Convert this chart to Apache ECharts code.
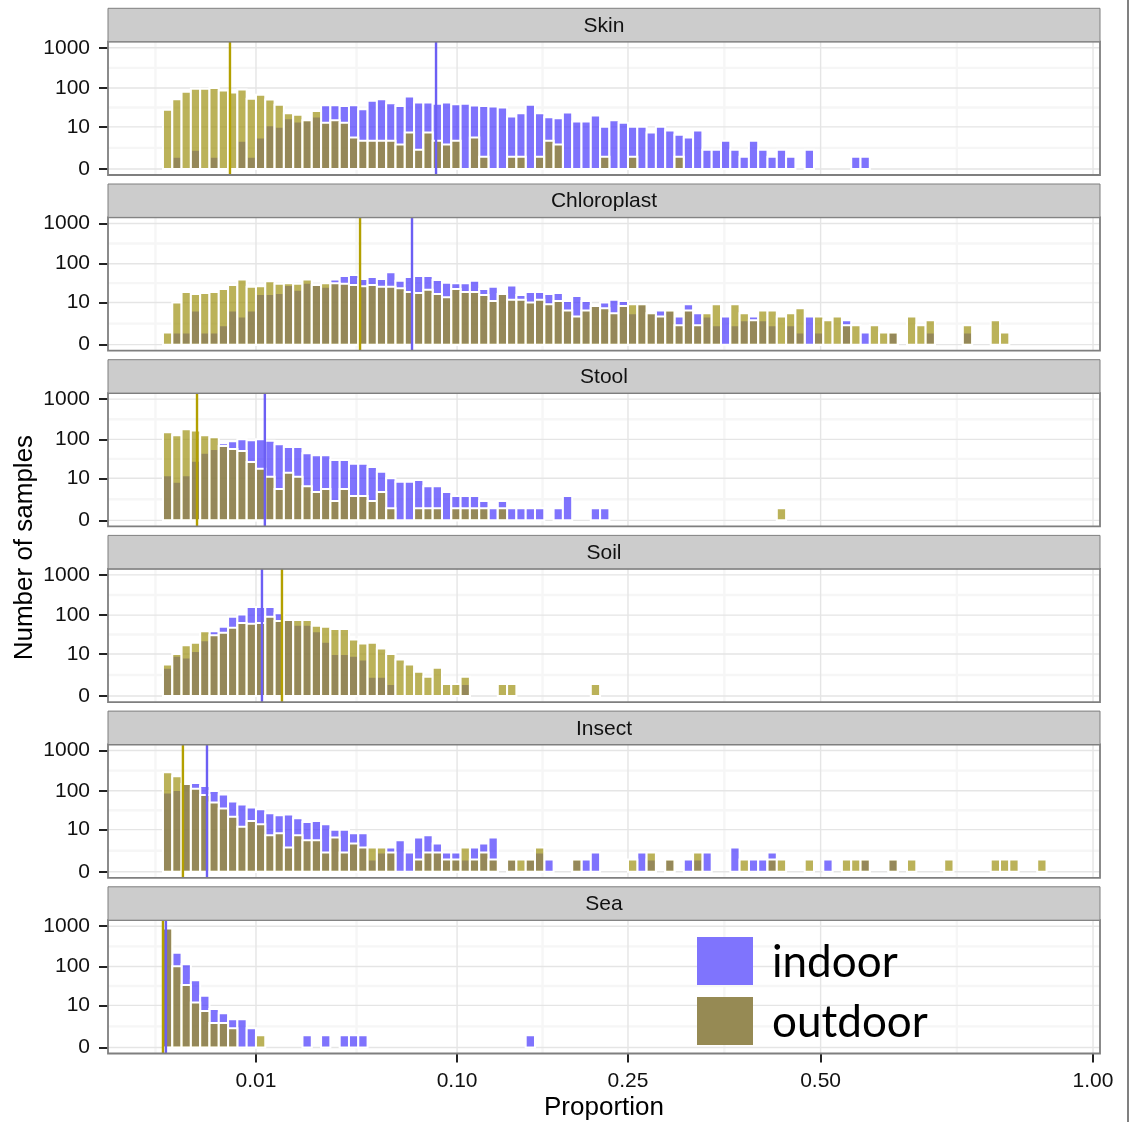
<!DOCTYPE html>
<html>
<head>
<meta charset="utf-8">
<script src="https://cdn.jsdelivr.net/npm/echarts@6/dist/echarts.min.js"></script>
<style>
  html, body { margin: 0; padding: 0; background: #ffffff; }
  #chart { width: 1132px; height: 1122px; }
</style>
</head>
<body>
<div id="chart"></div>
<script>
// Facets, top to bottom
const facets = ['Skin', 'Chloroplast', 'Stool', 'Soil', 'Insect', 'Sea'];

// Histogram bins are BIN_WIDTH wide on the square-root proportion scale; bin i starts at i * BIN_WIDTH
const BIN_WIDTH = 0.01;

// Number of samples per bin
const skinIndoor = [0,1,0,2,0,1,0,0,4,1, 5,11,10,17,14,15,19,37,37,35, 37,29,48,52,41,35,61,43,43,40,
  43,39,40,36,35,34,32,19,23,38, 23,18,17,24,14,14,20,10,15,13, 10,10,7,10,8,6,5,8,2,2,
  4,2,1,4,2,1,2,1,0,2, 0,0,0,0,1,1];
const skinOutdoor = [28,52,81,95,95,100,86,77,91,54, 68,51,38,23,21,15,26,13,15,13, 5,4,4,4,4,3,7,2,7,4,
  3,4,0,5,1,0,0,1,1,0, 1,4,3,0,0,0,0,1,0,0, 1,0,0,0,0,1];

const chloroplastIndoor = [0,1,1,6,1,1,2,6,4,6, 17,17,18,29,22,33,29,26,40,49, 52,41,46,41,61,37,46,49,49,39,
  33,32,32,37,23,26,17,28,16,19, 19,17,18,11,15,11,8,10,12,11, 5,9,5,6,6,4,9,5,4,2,
  4,2,3,4,3,2,0,2,1,4, 1,0,0,3,0,1,0,0,1,0, 0,0,1,0,0,0,1];
const chloroplastOutdoor = [1,10,19,17,18,19,23,29,40,26, 27,36,31,32,31,40,29,32,32,31, 29,27,29,26,26,24,19,18,22,17,
  14,23,19,19,16,11,17,12,12,10, 12,9,11,6,4,6,8,7,5,8, 9,9,5,4,6,2,6,2,5,9,
  0,9,5,3,6,6,4,5,7,0, 4,3,4,2,2,0,2,1,1,0, 4,2,3,0,0,0,2,0,0,3, 1];

const stoolIndoor = [12,8,12,29,46,57,80,90,101,95, 101,93,75,64,64,45,40,40,30,30, 24,24,20,15,10,8,8,9,6,6,
  4,3,3,3,2,1,2,1,1,1, 1,0,1,3,0,0,1,1];
const stoolOutdoor = [151,127,179,166,127,113,68,57,51,27, 18,11,5,14,11,6,4,5,2,5, 3,3,2,4,1,0,0,1,1,1,
  0,1,1,1,1,0,1,0,0,0, 0,0,0,0,0,0,0,0,0,0, 0,0,0,0,0,0,0,0,0,0, 0,0,0,0,0,0,1];

const soilIndoor = [4,9,8,12,23,39,51,91,103,160, 160,160,111,75,57,57,39,21,10,10, 9,7,2,2,1,0,0,0,0,0,
  0,0,1];
const soilOutdoor = [5,10,17,20,39,31,36,48,63,61, 63,91,71,75,75,75,54,51,45,45, 24,19,20,14,10,7,5,3,2,4,
  1,1,2,0,0,0,1,1,0,0, 0,0,0,0,0,0,1];

const insectIndoor = [90,104,148,156,132,99,81,54,45,38, 34,27,24,25,20,16,17,14,10,10, 8,8,1,2,3,5,2,6,7,4,
  2,2,1,3,4,6,0,1,0,1, 2,1,0,0,1,1,2,0,0,0, 0,2,1,0,1,0,1,1,2,0, 0,3,0,1,1,2,0,0,0,0,
  0,1,0,0,0,1,0,0,1];
const insectOutdoor = [289,230,148,113,78,51,36,22,12,17, 14,7,8,3,7,5,5,2,6,2, 4,3,3,3,2,0,0,1,2,2,
  1,1,3,1,2,1,0,1,1,1, 3,0,0,0,1,0,0,0,0,0, 1,0,2,0,1,0,0,2,0,0, 0,0,1,0,0,1,1,0,0,1,
  0,0,0,1,1,1,0,0,1,0, 1,0,0,0,1,0,0,0,0,1, 1,1,0,0,1];

const seaIndoor = [920,221,113,45,18,8,6,4,4,2, 0,0,0,0,0,1,0,1,0,1, 1,1,0,0,0,0,0,0,0,0,
  0,0,0,0,0,0,0,0,0,1];
const seaOutdoor = [880,102,34,12,7,3,3,2,0,0, 1];

const indoorCounts = [skinIndoor, chloroplastIndoor, stoolIndoor, soilIndoor, insectIndoor, seaIndoor];
const outdoorCounts = [skinOutdoor, chloroplastOutdoor, stoolOutdoor, soilOutdoor, insectOutdoor, seaOutdoor];

// Median proportion per facet
const indoorMedian = [0.0862, 0.0717, 0.0120, 0.01133, 0.00224, 0.00001];
const outdoorMedian = [0.00519, 0.0449, 0.00134, 0.01637, 0.00046, 0];

// Axis breaks
const xTickValues = [0.01, 0.10, 0.25, 0.50, 1.00];
const yTickValues = [0, 10, 100, 1000];

// ---- scales ----
const fx = p => Math.sqrt(p);          // square-root proportion scale
const fy = c => Math.log10(c + 1);     // log10(count + 1) scale
const X_MIN = -0.0591, X_MAX = 1.0075;
const Y_MIN = -0.15, Y_MAX = 3.15;

// ---- layout ----
const PANEL_LEFT = 108, PANEL_WIDTH = 992;
const PANEL_TOP = 41.7, PANEL_HEIGHT = 133.3, PANEL_PITCH = 175.7, STRIP_HEIGHT = 33.4;

const FONT = '"Liberation Sans", Arial, Helvetica, sans-serif';
const INDOOR_FILL = 'rgba(72,56,252,0.7)';
const OUTDOOR_FILL = 'rgba(158,145,19,0.7)';
const INDOOR_LINE = '#6c5ff4';
const OUTDOOR_LINE = '#b3a000';

function minorBreaks(major, lo, hi) {
  const n = major.length;
  const ext = [major[0] - (major[1] - major[0])].concat(major, [major[n - 1] + (major[n - 1] - major[n - 2])]);
  const out = [];
  for (let i = 0; i < ext.length - 1; i++) {
    const m = (ext[i] + ext[i + 1]) / 2;
    if (m > lo && m < hi) out.push(m);
  }
  return out;
}

const xMajor = xTickValues.map(fx);
const yMajor = yTickValues.map(fy);
const xMinor = minorBreaks(xMajor, X_MIN, X_MAX);
const yMinor = minorBreaks(yMajor, Y_MIN, Y_MAX);

// [value, orientation (0 vertical / 1 horizontal), major flag]
const gridLineData = [].concat(
  xMinor.map(v => [v, 0, 0]), yMinor.map(v => [v, 1, 0]),
  xMajor.map(v => [v, 0, 1]), yMajor.map(v => [v, 1, 1])
);

function binData(counts) {
  const out = [];
  counts.forEach((c, i) => {
    if (c > 0) out.push([i * BIN_WIDTH, (i + 1) * BIN_WIDTH, fy(c)]);
  });
  return out;
}

function renderGridLine(params, api) {
  const v = api.value(0), horiz = api.value(1) === 1, major = api.value(2) === 1;
  const a = horiz ? api.coord([X_MIN, v]) : api.coord([v, Y_MIN]);
  const b = horiz ? api.coord([X_MAX, v]) : api.coord([v, Y_MAX]);
  return {
    type: 'line',
    shape: { x1: a[0], y1: a[1], x2: b[0], y2: b[1] },
    style: { stroke: major ? '#e5e5e5' : '#f6f6f6', lineWidth: major ? 1.4 : 2.4 }
  };
}

function barRenderer(fill) {
  return function (params, api) {
    const p0 = api.coord([api.value(0), api.value(2)]);
    const p1 = api.coord([api.value(1), 0]);
    return {
      type: 'rect',
      shape: { x: p0[0], y: p0[1], width: p1[0] - p0[0], height: p1[1] - p0[1] },
      style: { fill: fill, stroke: '#ffffff', lineWidth: 2 }
    };
  };
}

function medianRenderer(color) {
  return function (params, api) {
    const a = api.coord([api.value(0), Y_MIN]);
    const b = api.coord([api.value(0), Y_MAX]);
    return {
      type: 'line',
      shape: { x1: a[0], y1: a[1], x2: b[0], y2: b[1] },
      style: { stroke: color, lineWidth: 2.4 }
    };
  };
}

function renderBorder(params, api) {
  const a = api.coord([X_MIN, Y_MAX]);
  const b = api.coord([X_MAX, Y_MIN]);
  return {
    type: 'rect',
    shape: { x: a[0], y: a[1], width: b[0] - a[0], height: b[1] - a[1] },
    style: { fill: 'none', stroke: '#7f7f7f', lineWidth: 1.8 }
  };
}

const grids = [], xAxes = [], yAxes = [], series = [], graphics = [];
const last = facets.length - 1;

facets.forEach((name, k) => {
  const top = PANEL_TOP + k * PANEL_PITCH;
  grids.push({ left: PANEL_LEFT, top: top, width: PANEL_WIDTH, height: PANEL_HEIGHT, containLabel: false });

  xAxes.push({
    gridIndex: k, type: 'value', min: X_MIN, max: X_MAX, position: 'bottom',
    axisLine: { show: false, onZero: false }, splitLine: { show: false },
    axisTick: { show: k === last, customValues: xMajor, length: 9, lineStyle: { color: '#222', width: 2 } },
    axisLabel: {
      show: k === last, customValues: xMajor, margin: 17,
      fontFamily: FONT, fontSize: 21, color: '#111',
      formatter: v => (v * v).toFixed(2)
    },
    name: k === last ? 'Proportion' : '', nameLocation: 'middle', nameGap: 41,
    nameTextStyle: { fontFamily: FONT, fontSize: 26, color: '#000' }
  });

  yAxes.push({
    gridIndex: k, type: 'value', min: Y_MIN, max: Y_MAX, position: 'left',
    axisLine: { show: false, onZero: false }, splitLine: { show: false },
    axisTick: { show: true, customValues: yMajor, length: 9, lineStyle: { color: '#222', width: 2 } },
    axisLabel: {
      show: true, customValues: yMajor, margin: 18,
      fontFamily: FONT, fontSize: 21, color: '#111',
      formatter: v => String(Math.round(Math.pow(10, v) - 1))
    }
  });

  const common = { type: 'custom', coordinateSystem: 'cartesian2d', xAxisIndex: k, yAxisIndex: k, silent: true, clip: false };

  series.push(Object.assign({}, common, { name: name + ' grid', renderItem: renderGridLine, data: gridLineData, z: 1 }));
  series.push(Object.assign({}, common, {
    name: 'indoor', renderItem: barRenderer(INDOOR_FILL), data: binData(indoorCounts[k]),
    encode: { x: [0, 1], y: 2 }, z: 2
  }));
  series.push(Object.assign({}, common, {
    name: 'outdoor', renderItem: barRenderer(OUTDOOR_FILL), data: binData(outdoorCounts[k]),
    encode: { x: [0, 1], y: 2 }, z: 3
  }));
  series.push(Object.assign({}, common, {
    name: 'outdoor median', renderItem: medianRenderer(OUTDOOR_LINE), data: [[fx(outdoorMedian[k])]], z: 4
  }));
  series.push(Object.assign({}, common, {
    name: 'indoor median', renderItem: medianRenderer(INDOOR_LINE), data: [[fx(indoorMedian[k])]], z: 4
  }));
  series.push(Object.assign({}, common, { name: name + ' border', renderItem: renderBorder, data: [[0]], z: 5 }));

  // facet strip
  graphics.push({
    type: 'rect', z: 10,
    shape: { x: PANEL_LEFT, y: top - STRIP_HEIGHT, width: PANEL_WIDTH, height: STRIP_HEIGHT },
    style: { fill: '#cccccc', stroke: '#7f7f7f', lineWidth: 1 }
  });
  graphics.push({
    type: 'text', z: 11, x: PANEL_LEFT + PANEL_WIDTH / 2, y: top - STRIP_HEIGHT / 2 + 1,
    style: { text: name, font: '21px ' + FONT, fill: '#111', textAlign: 'center', textVerticalAlign: 'middle' }
  });
});

// y-axis title
graphics.push({
  type: 'text', z: 11, x: 25, y: PANEL_TOP + (last * PANEL_PITCH + PANEL_HEIGHT) / 2, rotation: Math.PI / 2,
  style: { text: 'Number of samples', font: '26px ' + FONT, fill: '#000', textAlign: 'center', textVerticalAlign: 'middle' }
});

// legend
const legendItems = [['indoor', 'rgb(127,116,253)'], ['outdoor', 'rgb(150,138,84)']];
legendItems.forEach((item, i) => {
  graphics.push({
    type: 'rect', z: 12, shape: { x: 697, y: 937 + i * 60, width: 56, height: 48 },
    style: { fill: item[1] }
  });
  graphics.push({
    type: 'text', z: 12, x: 772, y: 963 + i * 60,
    style: { text: item[0], font: '44px Lato, "Open Sans", sans-serif', fill: '#000', textAlign: 'left', textVerticalAlign: 'middle' }
  });
});

// right edge rule
graphics.push({
  type: 'line', z: 12, shape: { x1: 1128, y1: 0, x2: 1128, y2: 1122 },
  style: { stroke: '#808080', lineWidth: 2 }
});

const chart = echarts.init(document.getElementById('chart'), null, { renderer: 'canvas' });
chart.setOption({
  animation: false,
  backgroundColor: '#ffffff',
  grid: grids,
  xAxis: xAxes,
  yAxis: yAxes,
  series: series,
  graphic: graphics
});
</script>
</body>
</html>
